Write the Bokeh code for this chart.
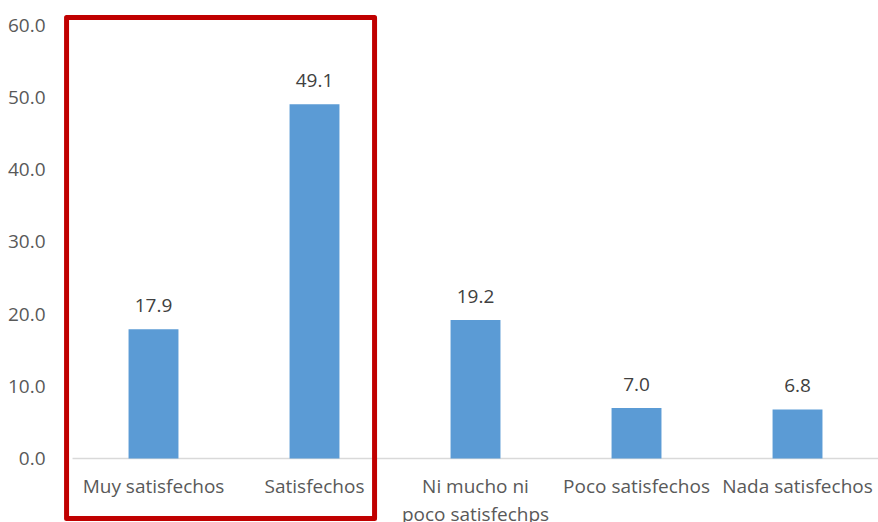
from bokeh.plotting import figure
from bokeh.models import ColumnDataSource, FixedTicker, Range1d, PrintfTickFormatter
from bokeh.core.properties import value
from bokeh.embed import file_html
from bokeh.resources import INLINE

categories = ["Muy satisfechos", "Satisfechos", "Ni mucho ni\npoco satisfechps",
              "Poco satisfechos", "Nada satisfechos"]
values = [17.9, 49.1, 19.2, 7.0, 6.8]
y_ticks = [0, 10, 20, 30, 40, 50, 60]
highlight = [0, 1]  # categories framed in red

FONT = "Open Sans"
xs = list(range(len(categories)))
src = ColumnDataSource(dict(x=xs, v=values, cat=categories,
                            lab=[f"{v:.1f}" for v in values]))

p = figure(width=878, height=522, output_backend="svg", toolbar_location=None,
           x_range=Range1d(-0.6025, 4.503), y_range=Range1d(-8.87, 63.46),
           min_border_left=56, min_border_right=0, min_border_top=0, min_border_bottom=0)
p.outline_line_color = None
p.grid.visible = False
p.xaxis.visible = False
ya = p.yaxis[0]
ya.ticker = FixedTicker(ticks=y_ticks)
ya.formatter = PrintfTickFormatter(format="%.1f")
ya.axis_line_color = None
ya.major_tick_line_color = None
ya.minor_tick_line_color = None
ya.major_label_standoff = 5
ya.major_label_text_font = FONT
ya.major_label_text_font_size = "19px"
ya.major_label_text_color = "#595959"

# baseline
p.segment(x0=[xs[0] - 0.503], x1=[xs[-1] + 0.503], y0=[0], y1=[0],
          line_color="#D9D9D9", line_width=1.3)

p.vbar(x="x", top="v", width=0.31, source=src, fill_color="#5B9BD5", line_color=None)

p.text(x="x", y="v", text="lab", source=src, text_align="center", text_baseline="bottom",
       y_offset=-17, text_font=value(FONT), text_font_size="19px", text_color="#404040")

p.text(x="x", y=0, text="cat", source=src, text_align="center", text_baseline="top",
       y_offset=15, text_font=value(FONT), text_font_size="19px", text_color="#595959",
       text_line_height=1.05)

# red highlight frame
p.quad(left=[highlight[0] - 0.54], right=[highlight[-1] + 0.373], bottom=[-8.31], top=[61.11],
       fill_color=None, line_color="#C00000", line_width=5, line_join="round")

open("out.html", "w").write(file_html(p, INLINE))
